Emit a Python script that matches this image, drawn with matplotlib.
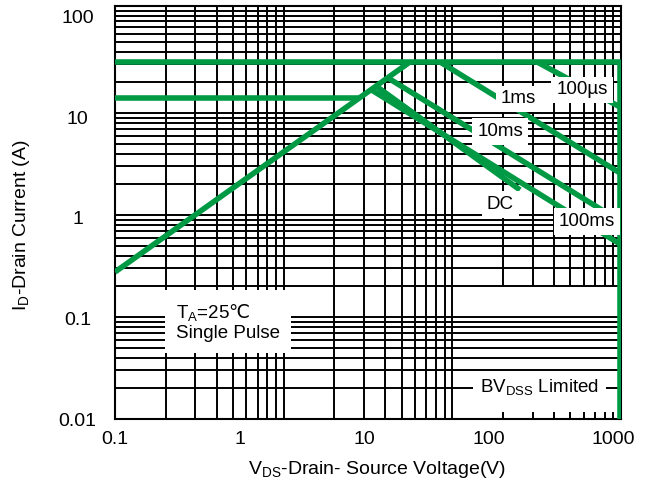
import matplotlib
matplotlib.use('Agg')
import matplotlib.pyplot as plt

plt.rcParams['font.family'] = ['Liberation Sans', 'DejaVu Sans']
plt.rcParams['mathtext.fontset'] = 'custom'
plt.rcParams['mathtext.rm'] = 'Liberation Sans'
plt.rcParams['mathtext.sf'] = 'Noto Sans CJK SC'   # tylko dla znaku ℃

# dane (V, A)
idm = 35.7          # prąd impulsowy
id_cont = 15.6      # prąd ciągły
bvdss = 1138        # granica napięcia
rds_v = [0.1, 23.4]
rds_i = [0.29, 35.7]
t100us_v = [245, 1138]
t100us_i = [35.7, 12.7]
t1ms_v = [40.7, 1138]
t1ms_i = [35.7, 2.8]
t10ms_v = [15.6, 1138]
t10ms_i = [24.7, 0.93]
t100ms_v = [11.4, 1138]
t100ms_i = [18.9, 0.55]
dc_v = [12.5, 179]
dc_i = [20.5, 1.9]

xticks = [0.1, 1, 10, 100, 1000]
xlabels = ['0.1', '1', '10', '100', '1000']
yticks = [0.01, 0.1, 1, 10, 100]
ylabels = ['0.01', '0.1', '1', '10', '100']

green = '#009944'
fig = plt.figure(figsize=(6.53, 4.93), dpi=100)
pos = [115/653, 1-419/493, 506/653, 413/493]

# siatka (osobna oś, tak jak w karcie katalogowej)
axg = fig.add_axes(pos)
axg.set_xscale('log')
axg.set_yscale('log')
axg.set_xlim(1, 1000)
axg.set_ylim(0.01, 112)
gx = [m * 10**d for d in range(0, 3) for m in range(1, 10)] + [1000]
for v in gx:
    if v > 100 and v < 1000:
        axg.vlines(v, 0.2, 112, color='k', lw=1.4)
        axg.vlines(v, 0.01, 0.0116, color='k', lw=1.4)
    else:
        axg.vlines(v, 0.01, 112, color='k', lw=1.4)
gy = [m * 10**d for d in range(-2, 2) for m in range(1, 10)] + [100]
axg.hlines(gy, 1, 1000, color='k', lw=1.4)
axg.set_xticks([])
axg.set_yticks([])
axg.minorticks_off()
for s in axg.spines.values():
    s.set_linewidth(1.5)

ax = fig.add_axes(pos)
ax.patch.set_alpha(0)
ax.set_xscale('log')
ax.set_yscale('log')
ax.set_xlim(0.1, 1159)
ax.set_ylim(0.01, 128.5)
for s in ax.spines.values():
    s.set_visible(False)

lw = 4.0
ax.plot([0.1, bvdss, bvdss], [idm, idm, 0.01], color=green, lw=lw, solid_capstyle='butt')
ax.plot([0.1, 9.15], [id_cont, id_cont], color=green, lw=lw, solid_capstyle='butt')
ax.plot(rds_v, rds_i, color=green, lw=lw, solid_capstyle='butt')
for vv, ii in [(t100us_v, t100us_i), (t1ms_v, t1ms_i), (t10ms_v, t10ms_i),
               (t100ms_v, t100ms_i), (dc_v, dc_i)]:
    ax.plot(vv, ii, color=green, lw=lw, solid_capstyle='butt')

box = dict(facecolor='white', edgecolor='none', pad=3.5)
fs = 13.5
ax.text(563, 18.8, '100µs', fontsize=fs, ha='center', va='center', bbox=box, zorder=5)
ax.text(173, 15.3, '1ms', fontsize=fs, ha='center', va='center', bbox=box, zorder=5)
ax.text(124, 7.2, '10ms', fontsize=fs, ha='center', va='center', bbox=box, zorder=5)
ax.text(124, 1.35, 'DC', fontsize=fs, ha='center', va='center', bbox=box, zorder=5)
ax.text(618, 0.93, '100ms', fontsize=fs, ha='center', va='center', bbox=box, zorder=5)
ax.text(0.309, 0.092, 'T$_\\mathregular{A}$=25$\\mathsf{\u2103}$\nSingle Pulse', fontsize=fs,
        ha='left', va='center', linespacing=1.1,
        bbox=dict(facecolor='white', edgecolor='none', pad=8), zorder=5)
ax.text(259, 0.0203, 'BV$_\\mathregular{DSS}$ Limited', fontsize=fs, ha='center',
        va='center', bbox=dict(facecolor='white', edgecolor='none', pad=5), zorder=5)

ax.set_xticks(xticks)
ax.set_xticklabels(xlabels)
ax.set_yticks(yticks)
ax.set_yticklabels(ylabels, ha='center')
ax.minorticks_off()
ax.tick_params(length=0, labelsize=14)
ax.tick_params(axis='x', pad=9)
ax.tick_params(axis='y', pad=27)
fig.text(377/653, 1-470/493, 'V$_\\mathregular{DS}$-Drain- Source Voltage(V)',
         fontsize=14, ha='center', va='center')
fig.text(22/653, 1-225/493, 'I$_\\mathregular{D}$-Drain Current (A)',
         fontsize=14, ha='center', va='center', rotation=90)

fig.savefig('out.png', dpi=100)
